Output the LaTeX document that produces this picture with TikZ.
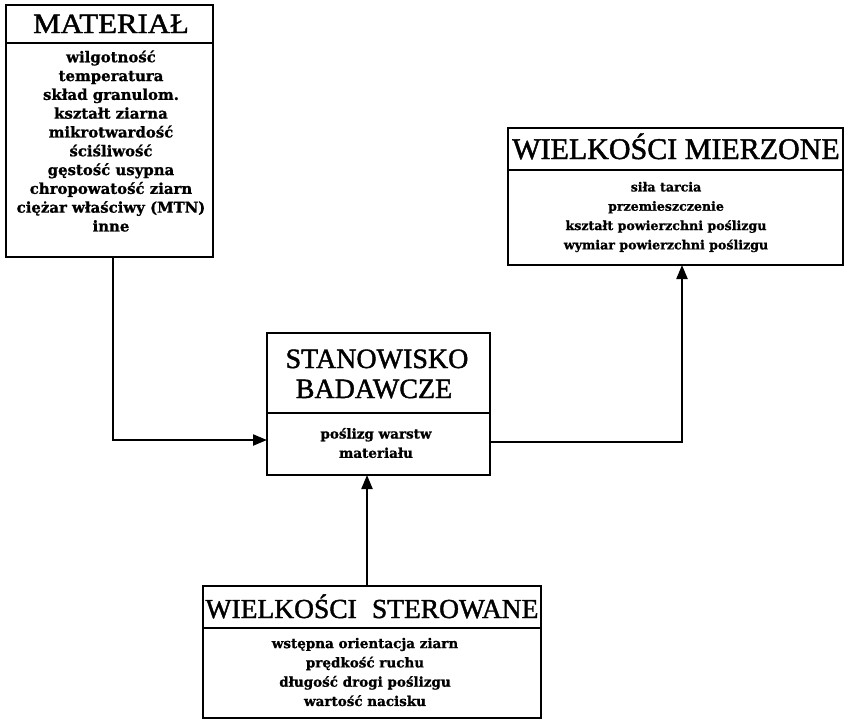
\documentclass[tikz,border=0pt]{standalone}
\usepackage{fontspec}
\setmainfont{Liberation Serif}
\newfontfamily\titlefont[FakeStretch=1.1,FakeBold=1.5]{Liberation Serif}
\newfontfamily\titleplain[FakeBold=1.5]{Liberation Serif}
\newfontfamily\bodyfont[FakeBold=1]{DejaVu Serif Bold}
\usetikzlibrary{arrows.meta}
\begin{document}
\begin{tikzpicture}[x=1pt,y=-1pt,
  box/.style={draw, line width=2.2pt, rectangle, inner sep=0pt, outer sep=0pt},
  divider/.style={line width=1.8pt},
  ttl/.style={anchor=base, inner sep=0pt, font=\titlefont\fontsize{28}{30}\selectfont},
  body/.style={align=center, inner sep=0pt, font=\bodyfont\fontsize{13.5}{19.3}\selectfont},
  arr/.style={line width=2.2pt, -{Triangle[length=14pt,width=11pt]}},
  conn/.style={line width=2.2pt}]
\useasboundingbox (0,0) rectangle (850,721);

% MATERIAL box
\node[box, minimum width=207pt, minimum height=252pt] (mat) at (109.5,131) {};
\draw[divider] (mat.west |- 0,43) -- (mat.east |- 0,43);
\node[ttl] (matT) at (111,33) {MATERIAŁ};
\node[body, font=\bodyfont\fontsize{14.9}{18.8}\selectfont] (matB) at (111,141) {wilgotność\\temperatura\\skład granulom.\\kształt ziarna\\mikrotwardość\\ściśliwość\\gęstość usypna\\chropowatość ziarn\\ciężar właściwy (MTN)\\inne};

% WIELKOSCI MIERZONE box
\node[box, minimum width=335pt, minimum height=137pt] (mier) at (675.5,196.5) {};
\draw[divider] (mier.west |- 0,170) -- (mier.east |- 0,170);
\node[ttl, font=\titleplain\fontsize{30}{32}\selectfont] (mierT) at (676,159) {WIELKOŚCI MIERZONE};
\node[body, font=\bodyfont\fontsize{12.6}{19.3}\selectfont] (mierB) at (666,217) {siła tarcia\\przemieszczenie\\kształt powierzchni poślizgu\\wymiar powierzchni poślizgu};

% STANOWISKO BADAWCZE box
\node[box, minimum width=223pt, minimum height=142pt] (stan) at (378.5,404) {};
\draw[divider] (stan.west |- 0,413) -- (stan.east |- 0,413);
\node[ttl, font=\titleplain\fontsize{28}{30}\selectfont] (stanT1) at (377,368) {STANOWISKO};
\node[ttl, font=\titleplain\fontsize{28}{30}\selectfont] (stanT2) at (374,398) {BADAWCZE};
\node[body] (stanB) at (376,443) {poślizg warstw\\materiału};

% WIELKOSCI STEROWANE box
\node[box, minimum width=338pt, minimum height=132pt] (ster) at (372,652) {};
\draw[divider] (ster.west |- 0,628) -- (ster.east |- 0,628);
\node[ttl, font=\titleplain\fontsize{27.5}{30}\selectfont] (sterT) at (372,618) {WIELKOŚCI\hspace{0.3em} STEROWANE};
\node[body] (sterB) at (365,672) {wstępna orientacja ziarn\\prędkość ruchu\\długość drogi poślizgu\\wartość nacisku};

% connectors
\draw[arr] (mat.south -| 113,0) |- (stan.west |- 0,440);
\draw[arr] (stan.east |- 0,442) -| (mier.south -| 682,0);
\draw[arr] (ster.north -| 367,0) -- (stan.south -| 367,0);
\end{tikzpicture}
\end{document}
